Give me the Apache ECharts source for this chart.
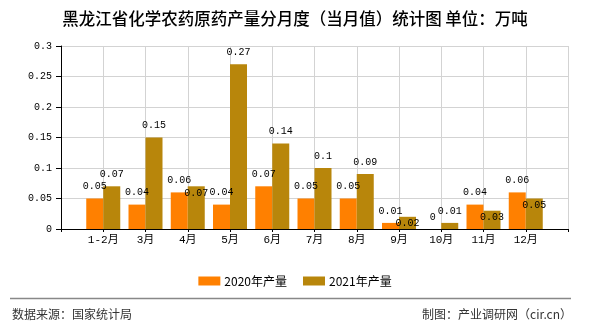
<!DOCTYPE html>
<html>
<head>
<meta charset="utf-8">
<script src="https://cdn.jsdelivr.net/npm/echarts@6/dist/echarts.min.js"></script>
<style>html,body{margin:0;padding:0;background:#fff;}#c{width:590px;height:330px;}</style>
</head>
<body>
<div id="c"></div>
<script>
const categories = ['1-2月','3月','4月','5月','6月','7月','8月','9月','10月','11月','12月'];
const seriesNames = ['2020年产量','2021年产量'];
const values2020 = [0.05,0.04,0.06,0.04,0.07,0.05,0.05,0.01,0,0.04,0.06];
const values2021 = [0.07,0.15,0.07,0.27,0.14,0.1,0.09,0.02,0.01,0.03,0.05];
const yTicks = [0,0.05,0.1,0.15,0.2,0.25,0.3];
const titleText = '黑龙江省化学农药原药产量分月度（当月值）统计图 单位：万吨';
const sourceText = '数据来源：国家统计局';
const makerText = '制图：产业调研网（cir.cn）';

const axisCats = [''].concat(categories).concat(['']);
const pad = arr => [null].concat(arr).concat([null]);
const monoFont = '"Liberation Mono","Noto Sans CJK SC",monospace';
const fmt = v => String(+(+v).toFixed(2));

const d2020 = pad(values2020);
const d2021 = pad(values2021).map((v, i) => {
  if (v === null) return null;
  const other = d2020[i];
  // labels collide when close in height and wide enough to overlap horizontally
  const w1 = fmt(v).length * 6, w2 = other === null ? 0 : fmt(other).length * 6;
  const clash = other !== null && Math.abs(v - other) < 0.015 && (w1 + w2) / 2 > 17;
  return clash ? {value: v, label: {position: 'insideTop', distance: 2}} : v;
});

const chart = echarts.init(document.getElementById('c'));
chart.setOption({
  animation: false,
  title: {
    text: titleText, left: 'center', top: 5,
    textStyle: {fontSize: 16.5, fontWeight: 500, color: '#000', fontFamily: '"Noto Sans CJK SC",sans-serif'}
  },
  legend: {
    data: seriesNames, top: 270, left: 'center',
    itemWidth: 22, itemHeight: 9, itemGap: 16,
    icon: 'rect',
    textStyle: {fontSize: 12, color: '#000', fontFamily: '"Noto Sans CJK SC",sans-serif', padding: [0,0,0,-1]}
  },
  grid: {left: 61, right: 22, top: 46, bottom: 101, containLabel: false},
  xAxis: {
    type: 'category', data: axisCats, boundaryGap: false,
    axisLine: {lineStyle: {color: '#000', width: 1}},
    axisTick: {show: true, length: 3, lineStyle: {color: '#000'}},
    axisLabel: {color: '#000', fontSize: 11, margin: 6, fontFamily: monoFont, interval: 0},
    splitLine: {show: true, lineStyle: {color: '#d3d3d3'}}
  },
  yAxis: {
    type: 'value', min: yTicks[0], max: yTicks[yTicks.length-1], interval: 0.05,
    axisLine: {show: true, lineStyle: {color: '#000', width: 1}},
    axisTick: {show: true, length: 5, lineStyle: {color: '#000'}},
    axisLabel: {color: '#000', fontSize: 10, margin: 9, fontFamily: monoFont, formatter: fmt},
    splitLine: {show: true, lineStyle: {color: '#d3d3d3'}}
  },
  series: [
    {
      name: seriesNames[0], type: 'bar', data: d2020, barWidth: 17, barGap: '0%',
      itemStyle: {color: '#FF8000'},
      label: {show: true, position: 'top', distance: 7, color: '#000', fontSize: 10, fontFamily: monoFont}
    },
    {
      name: seriesNames[1], type: 'bar', data: d2021, barWidth: 17, barGap: '0%',
      itemStyle: {color: '#B8860B'},
      label: {show: true, position: 'top', distance: 7, color: '#000', fontSize: 10, fontFamily: monoFont}
    }
  ],
  graphic: [
    {type: 'line', shape: {x1: 10, y1: 298.5, x2: 571, y2: 298.5}, style: {stroke: '#888', lineWidth: 1.5}},
    {type: 'text', left: 12, top: 308, style: {text: sourceText, fontSize: 12, fill: '#333', fontFamily: '"Noto Sans CJK SC",sans-serif'}},
    {type: 'text', right: 18, top: 308, style: {text: makerText, fontSize: 12, fill: '#333', fontFamily: '"Noto Sans CJK SC",sans-serif'}}
  ]
});
</script>
</body>
</html>
